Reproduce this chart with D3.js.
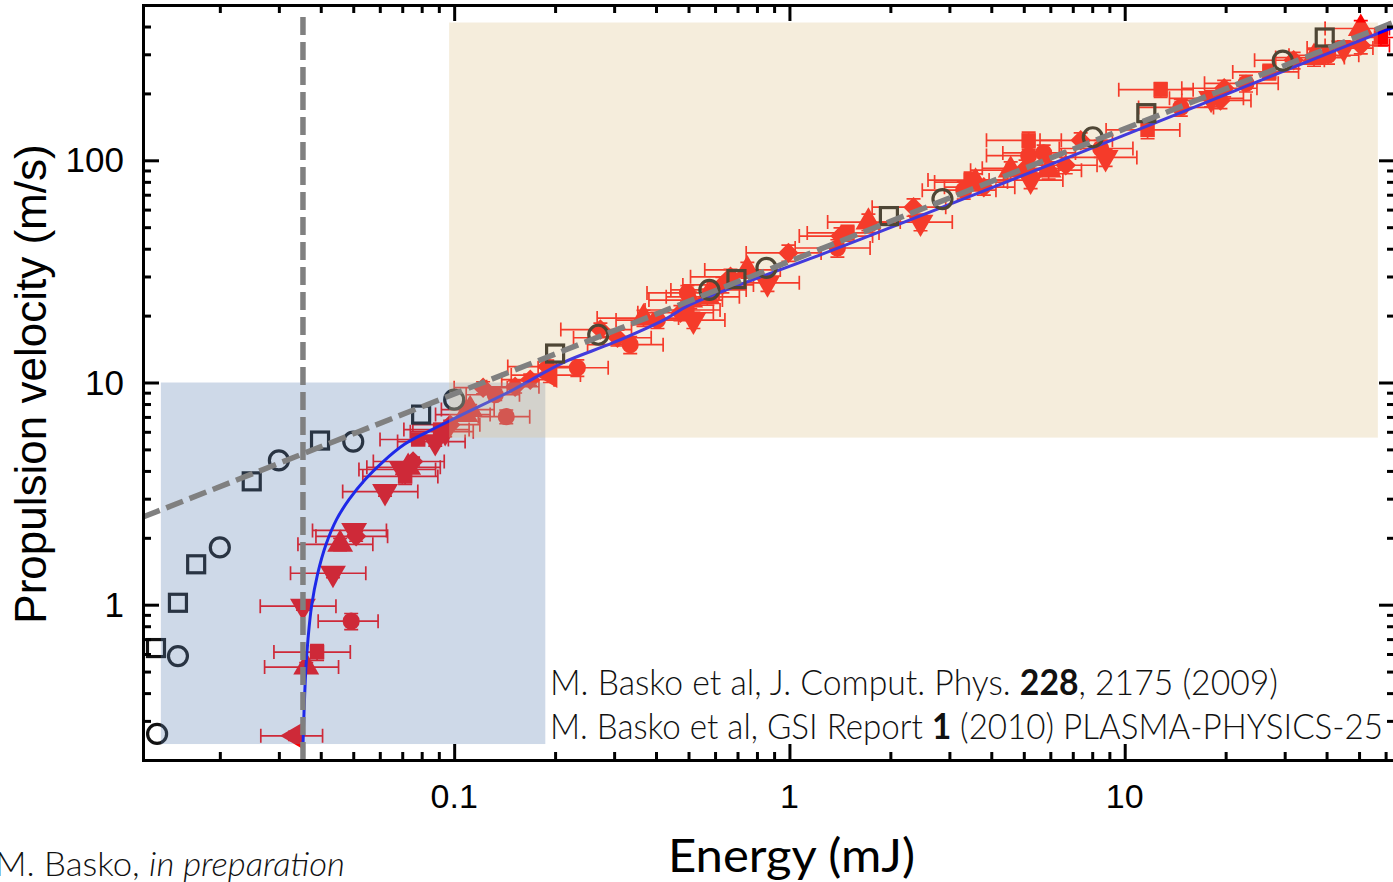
<!DOCTYPE html>
<html>
<head>
<meta charset="utf-8">
<script src="https://cdn.jsdelivr.net/npm/d3@7"></script>
<style>
body{margin:0;background:#fff;}
svg{display:block;}
</style>
</head>
<body>
<svg id="main" width="1393" height="882"></svg>
<script>
// simulation points (open symbols)
var simCircE=[0.0130,0.0150,0.0200,0.0300,0.0500,0.100,0.269,0.577,0.854,2.86,8.03,29.6];
var simCircV=[0.262,0.587,1.81,4.46,5.42,8.37,16.4,26.1,32.8,66.9,127,281];
var simSqE=[0.0129,0.0150,0.0170,0.0249,0.0398,0.0797,0.200,0.695,1.98,11.6,39.5];
var simSqV=[0.638,1.02,1.52,3.59,5.48,7.17,13.5,29.2,56.1,163,357];

// measured points (red, with error bars)
var expE=[0.0335,0.0362,0.0390,0.0493,0.0354,0.0435,0.0457,0.0510,0.0503,0.0622,
  0.0714,0.0754,0.0700,0.0729,0.0781,0.0878,0.0973,0.0908,0.143,0.152,
  0.122,0.108,0.193,0.233,0.1895,0.335,0.307,0.404,0.367,0.506,
  0.496,0.517,0.593,0.631,0.749,0.860,0.993,1.42,1.39,1.72,
  2.345,2.46,3.31,3.59,3.47,4.57,5.17,5.17,5.06,5.24,
  8.48,8.77,11.7,12.8,14.7,19.8,23.0,31.9,36.7,40.4,
  50.6,50.6,58.1,18.1,6.67,5.93,
  0.473,0.496,0.569,0.667,1.49,3.80,5.73,7.39,19.3,0.1116,
  0.1326,0.1686,0.094,0.273,27.0,45.0];
var expV=[0.257,0.524,0.612,0.843,0.985,1.385,1.87,2.03,2.16,3.23,
  3.78,4.41,4.06,4.15,5.54,5.42,6.46,6.14,7.02,9.57,
  9.48,7.17,10.8,11.65,11.8,14.8,15.9,19.1,19.5,23.5,
  21.2,19.1,26.1,27.5,32.1,28.1,38.3,45.6,40.3,52.7,
  61.5,52.7,73.4,79.8,81.5,90.3,123,105,92.1,81.5,
  113,103,137,208,173,211,222,282,290,297,
  392,329,357,190,95,90.3,
  20.6,25.3,24.3,29.9,47.1,75.7,108,123,186,7.55,
  8.81,10.3,6.01,17.3,250,320];
var expDE=[0.007,0.009,0.010,0.010,0.009,0.011,0.0115,0.0123,0.0125,0.0157,
  0.018,0.018,0.018,0.018,0.018,0.020,0.022,0.020,0.025,0.027,
  0.022,0.020,0.045,0.055,0.045,0.085,0.08,0.1,0.1,0.125,
  0.125,0.125,0.15,0.15,0.19,0.21,0.25,0.35,0.35,0.42,
  0.58,0.6,0.82,0.88,0.88,1.1,1.3,1.3,1.3,1.3,
  2.1,2.1,2.9,3.2,3.7,5,5.7,7.5,8.5,9.5,
  11,11,6,4.5,1.6,1.5,
  0.12,0.12,0.14,0.16,0.36,0.9,1.4,1.8,4.5,0.02,
  0.024,0.03,0.02,0.065,6,10];
var expDV=[0.012,0.025,0.05,0.07,0.04,0.06,0.12,0.1,0.1,0.15,
  0.3,0.2,0.2,0.2,0.25,0.25,0.3,0.3,0.5,0.6,
  0.6,0.4,0.8,1.0,0.8,1.3,1.3,1.6,1.6,2.0,
  1.8,1.6,2.1,2.2,2.6,2.4,3.2,4,3.6,4.5,
  5.5,4.5,6.5,7,7,8,11,9,8,7,
  10,9,12,16,15,18,19,24,25,26,
  33,28,30,16,8,8,
  1.6,2.0,2.0,2.4,3.8,6,9,10,15,0.4,
  0.5,0.6,0.3,1.2,20,25];
var expShape=['left','up','sq','circ','down','down','up','diam','down','down',
  'sq','diam','down','up','sq','down','diam','sq','circ','diam',
  'diam','up','left','circ','diam','circ','diam','circ','up','up',
  'sq','down','circ','diam','up','down','diam','diam','circ','up',
  'diam','down','circ','up','sq','up','sq','circ','diam','down',
  'circ','down','sq','sq','circ','diam','circ','diam','up','circ',
  'up','diam','sq','down','diam','up',
  'diam','circ','up','diam','sq','diam','circ','diam','diam','up',
  'circ','diam','down','diam','sq','down'];

// model curve
var curveE=[0.0353,0.03566,0.03615,0.03665,0.03755,0.03913,0.04149,0.04460,0.04860,0.05425,
  0.06097,0.07089,0.08248,0.1028,0.150,0.2115,0.298,0.421,0.506,1.326,3.72,14.7,61.0,64];
var curveV=[0.2,0.329,0.530,0.700,0.985,1.371,1.870,2.421,2.976,3.660,
  4.364,5.257,5.952,7.022,9.28,12.3,15.1,19.1,22.4,39.1,71.9,164,388,398];

// dashed guide lines
var fitE=[0.0118,64], fitV=[2.48,420];
var thrE=[0.0354,0.0354], thrV=[0.2,450];

// shaded boxes
var blueBoxE=[0.01334,0.187], blueBoxV=[0.236,10];
var tanBoxE=[0.0966,56.9], tanBoxV=[5.65,417];

var xTickVals=[0.1,1,10], xTickText=['0.1','1','10'];
var yTickVals=[1,10,100], yTickText=['1','10','100'];

var plotL=143, plotR=1395, plotT=5, plotB=760;
var x=d3.scaleLog().domain([0.0118,64]).range([plotL,plotR]);
var y=d3.scaleLog().domain([0.2,500]).range([plotB,plotT]);

var svg=d3.select('#main');
svg.append('rect').attr('width',1393).attr('height',882).attr('fill','#fff');
svg.append('defs').append('clipPath').attr('id','pclip')
  .append('rect').attr('x',plotL).attr('y',plotT).attr('width',plotR-plotL).attr('height',plotB-plotT);

var plot=svg.append('g').attr('clip-path','url(#pclip)');

//error bars
var cap=7;
var bars=plot.append('g').attr('stroke','#ff0000').attr('stroke-width',1.7).attr('fill','none');
expE.forEach(function(e,i){
  var cx=x(e), cy=y(expV[i]);
  var x1=x(e-expDE[i]), x2=x(e+expDE[i]);
  var y1=y(expV[i]-expDV[i]), y2=y(expV[i]+expDV[i]);
  var p='M'+x1+','+cy+'H'+x2+
    'M'+x1+','+(cy-cap)+'V'+(cy+cap)+
    'M'+x2+','+(cy-cap)+'V'+(cy+cap)+
    'M'+cx+','+y1+'V'+y2+
    'M'+(cx-cap)+','+y1+'H'+(cx+cap)+
    'M'+(cx-cap)+','+y2+'H'+(cx+cap);
  bars.append('path').attr('d',p);
});

var shapes={
  circ:[d3.symbolCircle,230,0],
  sq:[d3.symbolSquare,210,0],
  up:[d3.symbolTriangle,290,0],
  down:[d3.symbolTriangle,290,180],
  left:[d3.symbolTriangle,290,-90],
  diam:[d3.symbolSquare,210,45]
};
plot.append('g').selectAll('path').data(expE).join('path')
  .attr('d',function(d,i){var s=shapes[expShape[i]];return d3.symbol(s[0],s[1])();})
  .attr('transform',function(d,i){return 'translate('+x(d)+','+y(expV[i])+') rotate('+shapes[expShape[i]][2]+')';})
  .attr('fill','#ff0000');

// model curve
var line=d3.line().x(function(d){return x(d[0]);}).y(function(d){return y(d[1]);});
plot.append('path')
  .attr('d',line.curve(d3.curveCatmullRom.alpha(0.5))(d3.zip(curveE,curveV)))
  .attr('fill','none').attr('stroke','#0000ff').attr('stroke-width',3);
line.curve(d3.curveLinear);

// open symbols
plot.append('g').selectAll('circle').data(simCircE).join('circle')
  .attr('cx',function(d){return x(d);}).attr('cy',function(d,i){return y(simCircV[i]);})
  .attr('r',9.5).attr('fill','none').attr('stroke','#111').attr('stroke-width',3.2);
plot.append('g').selectAll('rect').data(simSqE).join('rect')
  .attr('x',function(d){return x(d)-8.5;}).attr('y',function(d,i){return y(simSqV[i])-8.5;})
  .attr('width',17).attr('height',17).attr('fill','none').attr('stroke','#111').attr('stroke-width',3.2);

// shaded boxes over the data
plot.append('rect')
  .attr('x',x(blueBoxE[0])).attr('y',y(blueBoxV[1]))
  .attr('width',x(blueBoxE[1])-x(blueBoxE[0])).attr('height',y(blueBoxV[0])-y(blueBoxV[1]))
  .attr('fill','rgb(98,131,180)').attr('fill-opacity',0.31);
plot.append('rect')
  .attr('x',x(tanBoxE[0])).attr('y',y(tanBoxV[1]))
  .attr('width',x(tanBoxE[1])-x(tanBoxE[0])).attr('height',y(tanBoxV[0])-y(tanBoxV[1]))
  .attr('fill','rgb(222,196,140)').attr('fill-opacity',0.30);

// dashed lines on top
plot.append('path').attr('d',line(d3.zip(fitE,fitV)))
  .attr('fill','none').attr('stroke','#808080').attr('stroke-width',5.5).attr('stroke-dasharray','18,7');
plot.append('path').attr('d',line(d3.zip(thrE,thrV)))
  .attr('fill','none').attr('stroke','#808080').attr('stroke-width',5.5).attr('stroke-dasharray','18,7');

// axes, ticks inside on all sides
function isMajor(v){var l=Math.log10(v);return Math.abs(l-Math.round(l))<1e-6;}
var xt=x.ticks().filter(function(v){return v>0.0118&&v<64;});
var yt=y.ticks().filter(function(v){return v>0.2&&v<500;});
function styleAxis(g,attr,sign){
  g.select('.domain').attr('stroke','#000').attr('stroke-width',3);
  g.selectAll('.tick line').attr('stroke','#000').attr('stroke-width',3)
    .attr(attr,function(d){return sign*(isMajor(d)?16:8);});
  g.selectAll('.tick text').remove();
}
svg.append('g').attr('transform','translate(0,'+plotB+')')
  .call(d3.axisBottom(x).tickValues(xt).tickSizeOuter(0).tickSize(-16))
  .call(styleAxis,'y2',-1);
svg.append('g').attr('transform','translate(0,'+plotT+')')
  .call(d3.axisTop(x).tickValues(xt).tickSizeOuter(0).tickSize(-16))
  .call(styleAxis,'y2',1);
svg.append('g').attr('transform','translate('+plotL+',0)')
  .call(d3.axisLeft(y).tickValues(yt).tickSizeOuter(0).tickSize(-16))
  .call(styleAxis,'x2',1);
svg.append('g').attr('transform','translate('+plotR+',0)')
  .call(d3.axisRight(y).tickValues(yt).tickSizeOuter(0).tickSize(-16))
  .call(styleAxis,'x2',-1);

// tick labels
svg.append('g').selectAll('text').data(xTickVals).join('text')
  .attr('x',function(d){return x(d);}).attr('y',808)
  .attr('text-anchor','middle').attr('font-family','Liberation Sans, Arial, sans-serif')
  .attr('font-size',34).text(function(d,i){return xTickText[i];});
svg.append('g').selectAll('text').data(yTickVals).join('text')
  .attr('x',124).attr('y',function(d){return y(d)+12;})
  .attr('text-anchor','end').attr('font-family','Liberation Sans, Arial, sans-serif')
  .attr('font-size',35).text(function(d,i){return yTickText[i];});

// axis titles
svg.append('text').attr('transform','translate(46,384) rotate(-90)')
  .attr('text-anchor','middle').attr('font-family','Liberation Sans, Arial, sans-serif')
  .attr('font-size',44).text('Propulsion velocity (m/s)');
svg.append('text').attr('x',668).attr('y',872)
  .attr('font-family','Lato, Open Sans, sans-serif').attr('font-size',47)
  .attr('textLength',247).attr('lengthAdjust','spacingAndGlyphs')
  .text('Energy (mJ)');

// references
var ref1=svg.append('text').attr('x',550).attr('y',695)
  .attr('font-family','Lato, Open Sans, sans-serif').attr('font-weight',300).attr('font-size',36)
  .attr('textLength',728).attr('lengthAdjust','spacingAndGlyphs').attr('fill','#111');
ref1.append('tspan').text('M. Basko et al, J. Comput. Phys. ');
ref1.append('tspan').attr('font-weight',700).text('228');
ref1.append('tspan').text(', 2175 (2009)');
var ref2=svg.append('text').attr('x',550).attr('y',739)
  .attr('font-family','Lato, Open Sans, sans-serif').attr('font-weight',300).attr('font-size',36)
  .attr('textLength',833).attr('lengthAdjust','spacingAndGlyphs').attr('fill','#111');
ref2.append('tspan').text('M. Basko et al, GSI Report ');
ref2.append('tspan').attr('font-weight',700).text('1');
ref2.append('tspan').text(' (2010) PLASMA-PHYSICS-25');
var ref3=svg.append('text').attr('x',-5).attr('y',876)
  .attr('font-family','Lato, Open Sans, sans-serif').attr('font-weight',300).attr('font-size',34)
  .attr('textLength',350).attr('lengthAdjust','spacingAndGlyphs').attr('fill','#111');
ref3.append('tspan').text('M. Basko, ');
ref3.append('tspan').attr('font-style','italic').text('in preparation');
</script>
</body>
</html>
